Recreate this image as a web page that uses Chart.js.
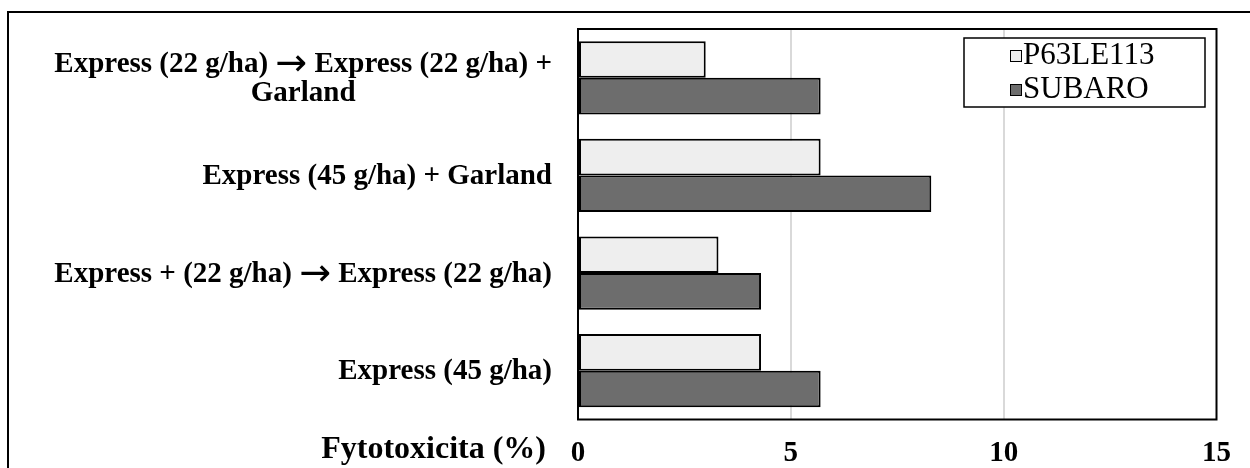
<!DOCTYPE html>
<html><head><meta charset="utf-8">
<script src="https://cdn.jsdelivr.net/npm/chart.js@4.4.0/dist/chart.umd.min.js"></script>
<style>html,body{margin:0;padding:0;background:#fff;overflow:hidden}
#wrap{position:relative;width:1250px;height:468px}</style>
</head><body><div id="wrap"><canvas id="c" width="1250" height="468"></canvas></div>
<script>
const categories = [["Express (22 g/ha) \u2192 Express (22 g/ha) +", "Garland"], "Express (45 g/ha) + Garland", "Express + (22 g/ha) \u2192 Express (22 g/ha)", "Express (45 g/ha)"];
const seriesNames = ["P63LE113", "SUBARO"];
const p63le113 = [3.0, 5.7, 3.3, 4.3];
const subaro = [5.7, 8.3, 4.3, 5.7];
const xTicks = [0, 5, 10, 15];
const xTitle = "Fytotoxicita (%)";

const SERIF = "'Liberation Serif', 'Times New Roman', serif";
const LABEL_FONT = "bold 29px " + SERIF;
const ARROW_FONT = "38px 'DejaVu Sans'";

function segs(line) {
  const parts = line.split('\u2192');
  const out = [];
  parts.forEach((p, i) => {
    if (i > 0) out.push({ t: '\u2192', f: ARROW_FONT });
    if (p) out.push({ t: p, f: LABEL_FONT });
  });
  return out;
}
function lineWidth(c, line) {
  return segs(line).reduce((w, s) => { c.font = s.f; return w + c.measureText(s.t).width; }, 0);
}
function drawLine(c, line, x, y) {
  segs(line).forEach(s => {
    c.font = s.f;
    c.fillText(s.t, x, s.f === ARROW_FONT ? y + 1 : y);
    x += c.measureText(s.t).width;
  });
}

const decor = {
  id: 'decor',
  beforeDraw(chart) {
    const c = chart.ctx;
    c.save();
    c.fillStyle = '#fff';
    c.fillRect(0, 0, chart.width, chart.height);
    c.strokeStyle = '#000';
    c.lineWidth = 2;
    c.beginPath();
    c.moveTo(8, 500); c.lineTo(8, 12); c.lineTo(1300, 12);
    c.stroke();
    c.restore();
  },
  afterDatasetsDraw(chart) {
    const c = chart.ctx, a = chart.chartArea;
    c.save();
    c.strokeStyle = '#000';
    c.lineWidth = 2;
    c.strokeRect(a.left, a.top, a.right - a.left, a.bottom - a.top);
    // legend
    c.fillStyle = '#fff';
    c.fillRect(964, 38, 241, 69);
    c.lineWidth = 1.5;
    c.strokeRect(964, 38, 241, 69);
    c.font = "31px " + SERIF;
    c.textBaseline = 'middle';
    c.textAlign = 'left';
    chart.data.datasets.forEach((ds, i) => {
      const cy = 55 + i * 34;
      c.fillStyle = ds.backgroundColor;
      c.fillRect(1010, cy - 5, 11, 11);
      c.lineWidth = 1;
      c.strokeStyle = '#000';
      c.strokeRect(1010.5, cy - 4.5, 11, 11);
      c.fillStyle = '#000';
      c.fillText(ds.label, 1023, cy + 1);
    });
    // y labels
    const ys = chart.scales.y;
    c.fillStyle = '#000';
    c.textAlign = 'left';
    c.textBaseline = 'middle';
    chart.data.labels.forEach((lab, i) => {
      const lines = Array.isArray(lab) ? lab : [lab];
      const widths = lines.map(l => lineWidth(c, l));
      const w = Math.max(...widths);
      const cx = 552 - w / 2;
      const cy = ys.getPixelForTick(i) + 1;
      lines.forEach((l, j) => {
        drawLine(c, l, cx - widths[j] / 2, cy + (j - (lines.length - 1) / 2) * 29);
      });
    });
    // x title
    c.font = "bold 32px " + SERIF;
    c.textAlign = 'right';
    c.fillText(xTitle, 546, 450);
    c.restore();
  }
};

new Chart(document.getElementById('c'), {
  type: 'bar',
  data: {
    labels: categories,
    datasets: [
      { label: seriesNames[0], data: p63le113, backgroundColor: '#EEEEEE', borderColor: '#000', borderWidth: 2, borderSkipped: false },
      { label: seriesNames[1], data: subaro, backgroundColor: '#6D6D6D', borderColor: '#000', borderWidth: 2, borderSkipped: false }
    ]
  },
  options: {
    indexAxis: 'y',
    responsive: false,
    animation: false,
    devicePixelRatio: 1,
    layout: { padding: { top: 29, right: 33.5, left: 0, bottom: 0 } },
    datasets: { bar: { categoryPercentage: 0.75, barPercentage: 1.0 } },
    plugins: { legend: { display: false }, tooltip: { enabled: false } },
    scales: {
      x: {
        min: 0, max: 15,
        afterBuildTicks: s => { s.ticks = xTicks.map(v => ({ value: v })); },
        afterFit: s => { s.height = 48.5; },
        ticks: { font: { family: SERIF, size: 29, weight: 'bold' }, color: '#000', padding: 17, maxRotation: 0 },
        grid: { color: ctx => (ctx.tick && (ctx.tick.value === 0 || ctx.tick.value === 15)) ? 'rgba(0,0,0,0)' : '#D9D9D9', lineWidth: 2, drawTicks: false },
        border: { display: false }
      },
      y: {
        afterFit: s => { s.width = 578; },
        ticks: { display: false },
        grid: { display: false, drawTicks: false },
        border: { display: false }
      }
    }
  },
  plugins: [decor]
});
</script>
</body></html>
